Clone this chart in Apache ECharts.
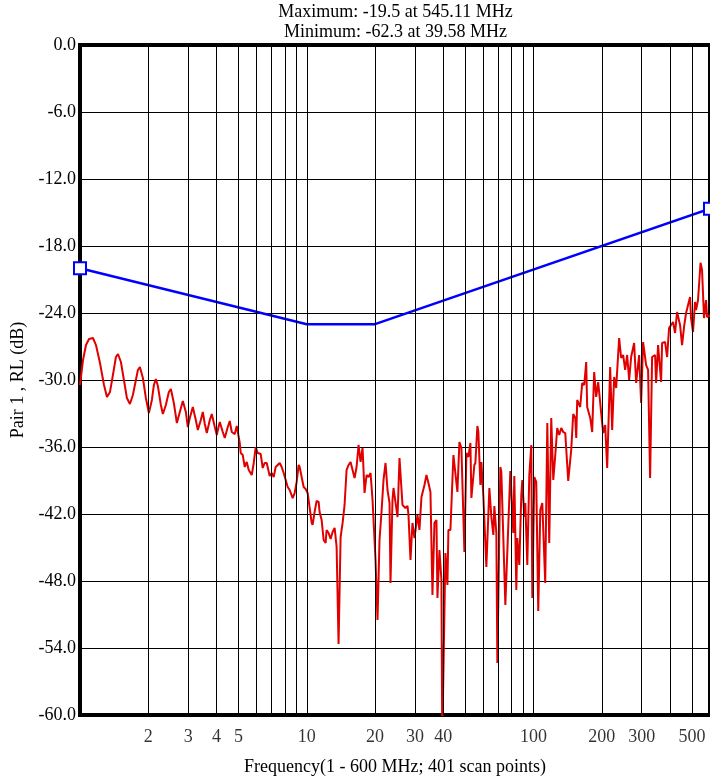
<!DOCTYPE html>
<html>
<head>
<meta charset="utf-8">
<title>Pair 1 RL</title>
<script src="https://cdn.jsdelivr.net/npm/echarts@6/dist/echarts.min.js"></script>
<style>
  html, body { margin: 0; padding: 0; background: #fff; }
  #chart { width: 710px; height: 782px; }
</style>
</head>
<body>
<div id="chart"></div>
<script>
const FONT = '"Liberation Serif", "Times New Roman", Times, serif';

// Frequency axis: labelled ticks and decade grid lines (MHz)
const xTickLabels = [2, 3, 4, 5, 10, 20, 30, 40, 100, 200, 300, 500];
const xGridLines = [2, 3, 4, 5, 6, 7, 8, 9, 10, 20, 30, 40, 50, 60, 70, 80, 90, 100, 200, 300, 400, 500];

// Return-loss limit breakpoints (MHz, dB)
const limitFreq = [1, 10, 20, 600];
const limitDb = [-20, -25, -25, -14.66];

// Measured return loss, Pair 1 (MHz, dB)
const rlFreq = [
  1.000, 1.031, 1.063, 1.096, 1.141, 1.176, 1.225, 1.276, 1.315, 1.356,
  1.397, 1.440, 1.470, 1.515, 1.562, 1.610, 1.660, 1.711, 1.764, 1.800,
  1.837, 1.894, 1.952, 2.013, 2.075, 2.117, 2.161, 2.205, 2.273, 2.320,
  2.391, 2.465, 2.516, 2.593, 2.674, 2.756, 2.841, 2.929, 2.989, 3.050,
  3.144, 3.241, 3.308, 3.410, 3.480, 3.551, 3.624, 3.736, 3.812, 3.930,
  4.011, 4.092, 4.134, 4.262, 4.349, 4.484, 4.575, 4.669, 4.813, 4.912,
  5.064, 5.115, 5.220, 5.327, 5.436, 5.547, 5.719, 5.836, 5.955, 6.077,
  6.265, 6.393, 6.524, 6.658, 6.864, 7.004, 7.148, 7.294, 7.443, 7.596,
  7.751, 7.910, 8.072, 8.238, 8.406, 8.492, 8.666, 8.843, 9.025, 9.209,
  9.303, 9.494, 9.688, 9.887, 10.09, 10.30, 10.51, 10.61, 10.83, 11.05,
  11.28, 11.39, 11.63, 11.87, 12.11, 12.23, 12.48, 12.74, 13.00, 13.27,
  13.54, 13.81, 14.10, 14.39, 14.68, 14.98, 15.29, 15.60, 15.92, 16.25,
  16.58, 16.92, 17.27, 17.62, 17.98, 18.35, 18.72, 19.11, 19.50, 20.10,
  20.51, 20.93, 21.36, 21.80, 22.25, 22.70, 23.17, 23.40, 23.88, 24.13,
  24.62, 25.13, 25.64, 26.43, 27.25, 27.81, 28.09, 28.67, 29.25, 29.85,
  30.77, 31.40, 32.05, 33.04, 33.71, 34.40, 35.11, 35.83, 36.56, 37.31,
  37.69, 38.46, 39.25, 39.58, 40.87, 41.71, 42.13, 43.00, 44.33, 46.16,
  47.11, 48.07, 49.56, 50.58, 51.61, 52.67, 53.20, 54.84, 55.40, 56.54,
  57.11, 58.29, 58.88, 60.09, 61.31, 61.94, 63.85, 65.16, 66.50, 67.17,
  68.55, 69.25, 71.39, 72.11, 75.10, 79.00, 81.44, 82.27, 83.96, 84.81,
  86.55, 88.32, 89.22, 91.05, 91.98, 93.86, 95.79, 97.75, 98.75, 100.8,
  102.8, 104.9, 107.1, 109.3, 112.6, 115.0, 117.3, 119.7, 122.2, 124.7,
  127.2, 129.8, 132.5, 135.2, 138.0, 142.2, 146.6, 149.6, 152.7, 154.3,
  155.8, 160.6, 163.9, 167.3, 170.7, 172.4, 177.8, 181.4, 185.1, 188.9,
  192.8, 198.7, 202.8, 207.0, 211.2, 217.7, 222.2, 226.7, 231.4, 238.5,
  243.4, 248.4, 253.5, 258.7, 264.0, 269.4, 277.7, 283.4, 292.2, 298.1,
  304.2, 313.7, 320.0, 326.6, 333.3, 343.6, 347.1, 354.2, 365.2, 368.9,
  380.3, 388.1, 396.0, 404.1, 412.4, 420.8, 429.5, 442.7, 451.8, 461.0,
  470.5, 480.1, 490.0, 494.9, 505.1, 515.4, 520.7, 531.3, 545.11, 553.4,
  564.7, 576.3, 582.2, 600.0
];
const rlDb = [
  -30.45, -28.21, -26.87, -26.33, -26.24, -26.87, -28.48, -30.45, -31.52, -31.07,
  -29.55, -27.94, -27.67, -28.39, -30.00, -31.61, -32.15, -31.34, -30.00, -29.10,
  -28.84, -29.82, -31.61, -32.95, -31.79, -30.45, -29.91, -30.54, -32.24, -33.04,
  -32.24, -31.07, -30.81, -32.06, -33.85, -32.86, -31.88, -32.86, -34.21, -33.40,
  -32.42, -33.58, -34.48, -33.58, -32.86, -33.94, -34.75, -33.58, -33.04, -34.21,
  -34.92, -34.12, -33.76, -34.66, -35.19, -34.21, -33.67, -34.66, -34.84, -34.12,
  -35.64, -36.54, -36.72, -37.79, -37.34, -38.06, -38.51, -37.43, -36.00, -36.54,
  -36.63, -37.88, -37.43, -37.43, -38.60, -38.33, -38.69, -37.79, -37.70, -37.43,
  -37.79, -38.33, -38.33, -39.58, -39.85, -39.76, -40.57, -40.12, -39.13, -37.61,
  -37.79, -38.69, -39.58, -39.76, -40.12, -41.46, -42.80, -42.98, -41.82, -40.83,
  -40.92, -41.82, -42.54, -44.33, -44.60, -43.43, -43.70, -44.24, -43.61, -43.25,
  -44.95, -53.64, -44.06, -42.80, -41.19, -38.06, -37.61, -37.34, -38.06, -38.78,
  -37.79, -35.82, -37.34, -36.09, -40.12, -38.51, -38.69, -38.33, -40.75, -46.12,
  -51.49, -44.33, -41.82, -38.95, -37.43, -39.85, -41.01, -48.18, -40.75, -39.67,
  -39.76, -42.27, -36.98, -41.19, -41.46, -41.28, -42.09, -46.12, -42.80, -44.15,
  -42.09, -43.43, -40.48, -39.40, -38.51, -39.22, -40.03, -49.25, -42.80, -42.54,
  -49.52, -45.22, -47.91, -62.30, -45.49, -48.36, -43.43, -43.43, -36.72, -40.03,
  -35.55, -36.09, -45.40, -36.54, -36.89, -35.64, -40.57, -37.61, -37.43, -34.12,
  -34.66, -39.40, -37.34, -40.48, -40.57, -46.75, -39.67, -42.27, -43.88, -41.28,
  -43.70, -55.34, -37.79, -38.24, -50.15, -38.15, -43.70, -38.60, -48.81, -44.15,
  -46.57, -40.30, -38.95, -42.27, -41.01, -46.57, -38.51, -35.82, -49.52, -38.69,
  -39.13, -50.69, -41.64, -41.01, -48.18, -33.85, -44.60, -33.40, -38.95, -36.72,
  -34.30, -34.92, -34.30, -34.66, -34.75, -39.04, -36.27, -33.04, -33.40, -35.19,
  -31.79, -32.42, -30.27, -30.45, -28.39, -32.42, -33.40, -34.66, -29.28, -31.52,
  -30.18, -32.95, -34.75, -34.03, -37.88, -28.84, -34.48, -29.73, -30.72, -26.24,
  -28.03, -27.76, -29.10, -27.76, -30.00, -27.94, -26.69, -30.27, -27.76, -32.06,
  -26.60, -28.66, -29.10, -38.78, -27.94, -27.76, -30.27, -26.87, -30.18, -26.69,
  -26.60, -27.94, -25.34, -25.25, -24.81, -25.79, -23.91, -25.07, -26.87, -25.25,
  -24.00, -23.91, -22.57, -24.45, -25.70, -23.01, -23.73, -22.84, -19.50, -20.15,
  -24.45, -22.84, -24.36, -24.20
];

const chart = echarts.init(document.getElementById('chart'), null, { renderer: 'canvas' });

const textBase = { fontFamily: FONT, fontSize: 18, color: '#000', fontWeight: 'normal' };

const option = {
  animation: false,
  backgroundColor: '#fff',
  title: {
    text: 'Maximum: -19.5 at 545.11 MHz\nMinimum: -62.3 at 39.58 MHz',
    left: 395.5,
    top: 2,
    padding: 0,
    textAlign: 'center',
    textStyle: Object.assign({}, textBase, { lineHeight: 20 })
  },
  grid: {
    left: 80,
    right: -1,
    top: 45,
    bottom: 67,
    show: true,
    borderColor: '#000',
    borderWidth: 4,
    backgroundColor: 'transparent'
  },
  xAxis: {
    type: 'log',
    logBase: 10,
    min: 1,
    max: 600,
    name: 'Frequency(1 - 600 MHz; 401 scan points)',
    nameLocation: 'middle',
    nameGap: 43,
    nameTextStyle: textBase,
    axisLine: { show: false },
    axisTick: { show: false },
    axisLabel: { show: false },
    splitLine: { show: false }
  },
  yAxis: {
    type: 'value',
    min: -60,
    max: 0,
    interval: 6,
    name: 'Pair 1 , RL (dB)',
    nameLocation: 'middle',
    nameGap: 52,
    nameTextStyle: textBase,
    axisLine: { show: false },
    axisTick: { show: false },
    axisLabel: Object.assign({}, textBase, {
      margin: 4,
      formatter: function (v) { return v.toFixed(1); }
    }),
    splitLine: { show: true, lineStyle: { color: '#000', width: 1 } }
  },
  series: [
    {
      // frequency tick labels and vertical grid lines
      type: 'scatter',
      name: 'ticks',
      data: xTickLabels.map(function (f) { return [f, -60]; }),
      symbolSize: 1,
      itemStyle: { color: 'rgba(0,0,0,0)' },
      clip: false,
      silent: true,
      z: 1,
      label: Object.assign({}, textBase, {
        show: true,
        position: 'bottom',
        distance: 13,
        formatter: function (p) { return String(p.value[0]); }
      }),
      markLine: {
        silent: true,
        animation: false,
        symbol: ['none', 'none'],
        label: { show: false },
        lineStyle: { color: '#000', width: 1, type: 'solid' },
        emphasis: { disabled: true },
        data: xGridLines.map(function (f) { return { xAxis: f }; })
      }
    },
    {
      type: 'line',
      name: 'RL',
      data: rlFreq.map(function (f, i) { return [f, rlDb[i]]; }),
      symbol: 'none',
      clip: true,
      z: 3,
      lineStyle: { color: '#e00000', width: 2 },
      emphasis: { disabled: true }
    },
    {
      type: 'line',
      name: 'Limit',
      data: limitFreq.map(function (f, i) {
        const isEnd = i === 0 || i === limitFreq.length - 1;
        return { value: [f, limitDb[i]], symbol: isEnd ? 'rect' : 'none' };
      }),
      showSymbol: true,
      showAllSymbol: true,
      symbolSize: 12,
      clip: false,
      z: 4,
      lineStyle: { color: '#0000ff', width: 2.5 },
      itemStyle: { color: '#ffffff', borderColor: '#0000ff', borderWidth: 2 },
      emphasis: { disabled: true }
    }
  ]
};

chart.setOption(option);
</script>
</body>
</html>
